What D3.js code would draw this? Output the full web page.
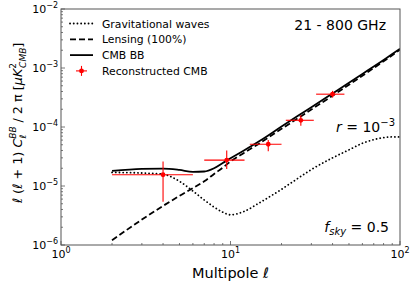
<!DOCTYPE html>
<html>
<head>
<meta charset="utf-8">
<script src="https://cdn.jsdelivr.net/npm/d3@7.9.0/dist/d3.min.js"></script>
<style>
  body { margin: 0; background: #fff; }
  svg { font-family: "DejaVu Sans", sans-serif; }
</style>
</head>
<body>
<svg id="chart" width="416" height="287"></svg>
<script>
// multipoles for the theory curves
const ells = [2, 3, 4, 5, 6, 7, 8, 9, 10, 12, 15, 20, 25, 30, 40, 50, 60, 70, 80, 90, 100];
// r = 1e-3 primordial (gravitational waves)
const gwBB = [1.7e-5, 1.66e-5, 1.58e-5, 1.2e-5, 8.2e-6, 5.8e-6, 4.4e-6, 3.6e-6, 3.25e-6, 3.7e-6, 5.3e-6,
  8.8e-6, 1.35e-5, 1.9e-5, 3.0e-5, 4.1e-5, 5.3e-5, 6.1e-5, 6.6e-5, 6.8e-5, 6.8e-5];
// lensing BB (100%)
const lensBB = [1.2e-6, 2.7e-6, 4.6e-6, 6.8e-6, 9.2e-6, 1.2e-5, 1.6e-5, 2.05e-5, 2.6e-5, 3.64e-5, 5.4e-5,
  9.3e-5, 1.41e-4, 1.98e-4, 3.4e-4, 5.2e-4, 7.4e-4, 1.0e-3, 1.3e-3, 1.65e-3, 2.05e-3];
// total CMB BB
const totalBB = [1.8e-5, 1.95e-5, 1.97e-5, 1.87e-5, 1.74e-5, 1.76e-5, 2.0e-5, 2.45e-5, 2.95e-5, 4.0e-5, 5.9e-5,
  1.02e-4, 1.55e-4, 2.17e-4, 3.7e-4, 5.6e-4, 7.93e-4, 1.06e-3, 1.37e-3, 1.72e-3, 2.12e-3];

// reconstructed CMB band powers
const binEll = [4, 9.5, 16.7, 26, 40];
const binLo = [2, 7, 13, 21.2, 32];
const binHi = [6, 12.1, 20, 31, 47];
const binVal = [1.55e-5, 2.75e-5, 5.1e-5, 1.3e-4, 3.6e-4];
const errLo = [5.4e-6, 1.95e-5, 3.9e-5, 1.05e-4, 3.15e-4];
const errHi = [2.6e-5, 4.0e-5, 6.0e-5, 1.58e-4, 4.1e-4];

const xTicks = [1, 10, 100];
const xExp = ['0', '1', '2'];
const yTicks = [1e-6, 1e-5, 1e-4, 1e-3, 1e-2];
const yExp = ['\u22126', '\u22125', '\u22124', '\u22123', '\u22122'];

const legendItems = ['Gravitational waves', 'Lensing (100%)', 'CMB BB', 'Reconstructed CMB'];

const svg = d3.select('#chart');
const m = { left: 61, right: 400, top: 9, bottom: 245 };

const x = d3.scaleLog().domain([1, 100]).range([m.left, m.right]);
const y = d3.scaleLog().domain([1e-6, 1e-2]).range([m.bottom, m.top]);

// minor ticks (inward)
const minorX = [];
for (let d = 1; d < 100; d *= 10) for (let k = 2; k < 10; k++) minorX.push(d * k);
const minorY = [];
for (let d = 1e-6; d < 1e-2 * 0.99; d *= 10) for (let k = 2; k < 10; k++) minorY.push(d * k);

const tickG = svg.append('g').attr('stroke', '#555').attr('stroke-width', 0.8);
minorX.forEach(v => tickG.append('line')
  .attr('x1', x(v)).attr('x2', x(v)).attr('y1', m.bottom).attr('y2', m.bottom - 2));
minorY.forEach(v => tickG.append('line')
  .attr('x1', m.left).attr('x2', m.left + 2).attr('y1', y(v)).attr('y2', y(v)));
xTicks.forEach(v => tickG.append('line')
  .attr('x1', x(v)).attr('x2', x(v)).attr('y1', m.bottom).attr('y2', m.bottom - 4));
yTicks.forEach(v => tickG.append('line')
  .attr('x1', m.left).attr('x2', m.left + 4).attr('y1', y(v)).attr('y2', y(v)));

// tick labels
xTicks.forEach((v, i) => {
  const t = svg.append('text').attr('x', x(v)).attr('y', m.bottom + 13)
    .attr('text-anchor', 'middle').attr('font-size', 11);
  t.append('tspan').text('10');
  t.append('tspan').attr('dy', -5).attr('font-size', 8).text(xExp[i]);
});
yTicks.forEach((v, i) => {
  const t = svg.append('text').attr('x', m.left - 3).attr('y', y(v) + 4)
    .attr('text-anchor', 'end').attr('font-size', 11);
  t.append('tspan').text('10');
  t.append('tspan').attr('dy', -5).attr('font-size', 8).text(yExp[i]);
});

svg.append('clipPath').attr('id', 'plotclip').append('rect')
  .attr('x', m.left).attr('y', m.top).attr('width', m.right - m.left).attr('height', m.bottom - m.top);

const line = vals => d3.line()
  .x((d, i) => x(ells[i]))
  .y((d, i) => y(vals[i]))
  .curve(d3.curveMonotoneX)(ells);

const plot = svg.append('g').attr('clip-path', 'url(#plotclip)');

plot.append('path').attr('d', line(gwBB)).attr('fill', 'none').attr('stroke', '#000')
  .attr('stroke-width', 1.8).attr('stroke-dasharray', '0.1 3.6').attr('stroke-linecap', 'round');
plot.append('path').attr('d', line(lensBB)).attr('fill', 'none').attr('stroke', '#000')
  .attr('stroke-width', 1.8).attr('stroke-dasharray', '6 3');
plot.append('path').attr('d', line(totalBB)).attr('fill', 'none').attr('stroke', '#000')
  .attr('stroke-width', 1.8);

// error bars
binEll.forEach((l, i) => {
  plot.append('line').attr('x1', x(binLo[i])).attr('x2', x(binHi[i]))
    .attr('y1', y(binVal[i])).attr('y2', y(binVal[i]))
    .attr('stroke', '#ff0000').attr('stroke-width', 1.1);
  plot.append('line').attr('x1', x(l)).attr('x2', x(l))
    .attr('y1', y(errLo[i])).attr('y2', y(errHi[i]))
    .attr('stroke', '#ff0000').attr('stroke-width', 1.1);
  plot.append('circle').attr('cx', x(l)).attr('cy', y(binVal[i])).attr('r', 2.4).attr('fill', '#ff0000');
});

// frame
svg.append('rect').attr('x', m.left).attr('y', m.top)
  .attr('width', m.right - m.left).attr('height', m.bottom - m.top)
  .attr('fill', 'none').attr('stroke', '#555').attr('stroke-width', 1);

// legend
const lg = svg.append('g');
legendItems.forEach((name, i) => {
  const yy = 23.5 + i * 15.8;
  if (i < 3) {
    const ln = lg.append('line').attr('x1', 70).attr('x2', 93).attr('y1', yy).attr('y2', yy)
      .attr('stroke', '#000').attr('stroke-width', 1.8);
    if (i === 0) ln.attr('stroke-dasharray', '0.1 3.6').attr('stroke-linecap', 'round');
    if (i === 1) ln.attr('stroke-dasharray', '6 3');
  } else {
    lg.append('line').attr('x1', 76).attr('x2', 87).attr('y1', yy).attr('y2', yy)
      .attr('stroke', '#ff0000').attr('stroke-width', 1.1);
    lg.append('line').attr('x1', 81.5).attr('x2', 81.5).attr('y1', yy - 5).attr('y2', yy + 5)
      .attr('stroke', '#ff0000').attr('stroke-width', 1.1);
    lg.append('circle').attr('cx', 81.5).attr('cy', yy).attr('r', 2.4).attr('fill', '#ff0000');
  }
  lg.append('text').attr('x', 102).attr('y', yy + 4).attr('font-size', 10.8).text(name);
});

// annotations
svg.append('text').attr('x', 386).attr('y', 30).attr('text-anchor', 'end')
  .attr('font-size', 14).text('21 - 800 GHz');

const rt = svg.append('text').attr('x', 395).attr('y', 132).attr('text-anchor', 'end').attr('font-size', 14);
rt.append('tspan').attr('font-style', 'italic').text('r');
rt.append('tspan').text(' = 10');
rt.append('tspan').attr('dy', -6).attr('font-size', 10).text('\u22123');

const ft = svg.append('text').attr('x', 389).attr('y', 232).attr('text-anchor', 'end').attr('font-size', 14);
ft.append('tspan').attr('font-style', 'italic').text('f');
ft.append('tspan').attr('font-style', 'italic').attr('dy', 3).attr('font-size', 10).text('sky');
ft.append('tspan').attr('dy', -3).text(' = 0.5');

// axis labels
const xl = svg.append('text').attr('x', (m.left + m.right) / 2).attr('y', 278)
  .attr('text-anchor', 'middle').attr('font-size', 14.5);
xl.append('tspan').text('Multipole ');
xl.append('tspan').attr('font-style', 'italic').text('\u2113');

const yl = svg.append('text').attr('transform', 'translate(22,123) rotate(-90)')
  .attr('text-anchor', 'middle').attr('font-size', 12.8);
yl.append('tspan').attr('font-style', 'italic').text('\u2113');
yl.append('tspan').text(' (');
yl.append('tspan').attr('font-style', 'italic').text('\u2113');
yl.append('tspan').text(' + 1) ');
yl.append('tspan').attr('font-style', 'italic').text('C');
yl.append('tspan').attr('font-style', 'italic').attr('font-size', 9).attr('dy', -6).text('BB');
yl.append('tspan').attr('font-style', 'italic').attr('font-size', 9).attr('dx', -12).attr('dy', 10).text('\u2113');
yl.append('tspan').attr('dx', 8).attr('dy', -4).text(' / 2 \u03c0 [');
yl.append('tspan').attr('font-style', 'italic').text('\u03bcK');
yl.append('tspan').attr('font-size', 9).attr('dy', -6).text('2');
yl.append('tspan').attr('font-style', 'italic').attr('font-size', 9).attr('dx', -5).attr('dy', 10).text('CMB');
yl.append('tspan').attr('dy', -4).text(']');
</script>
</body>
</html>
